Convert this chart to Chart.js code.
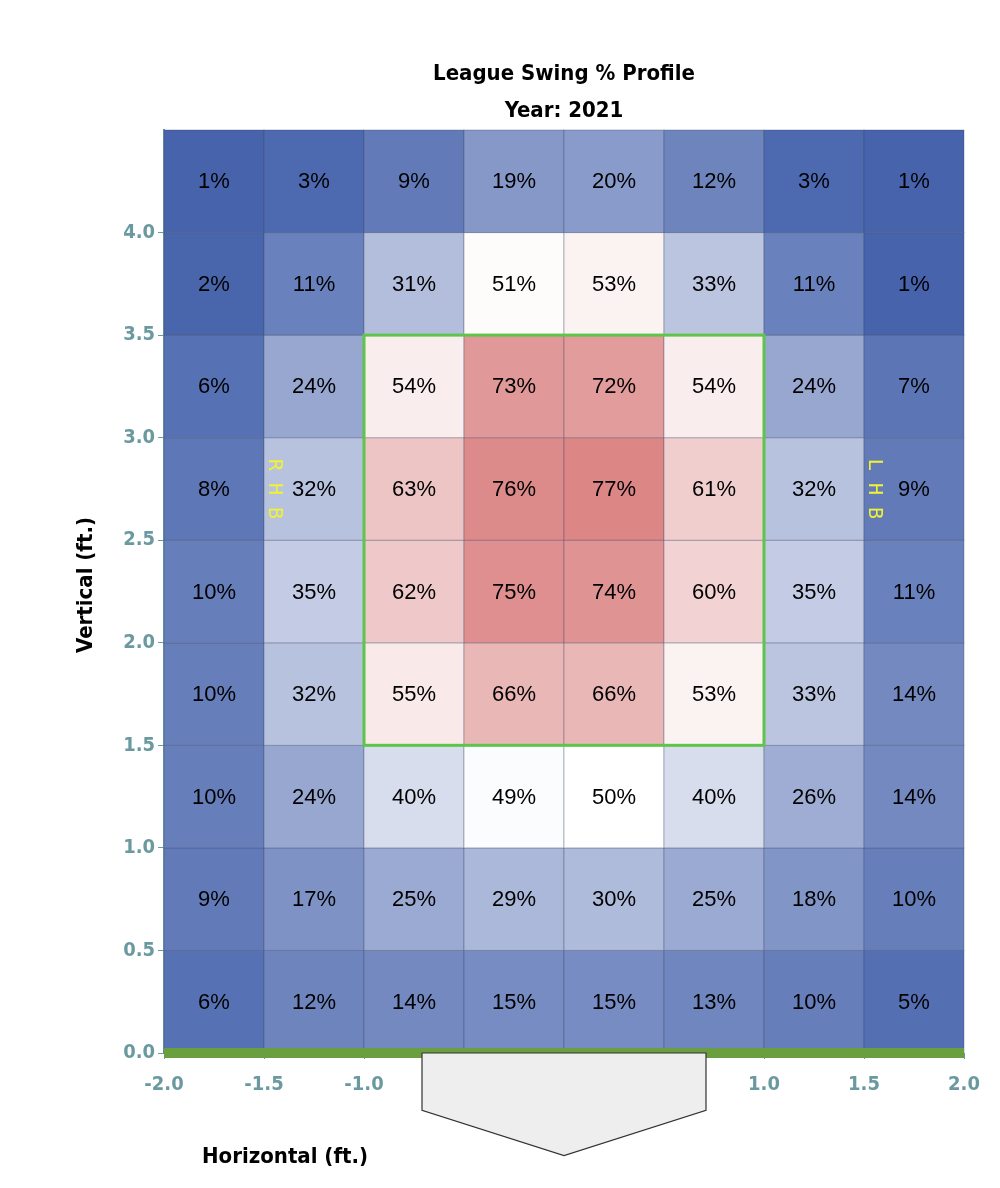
<!DOCTYPE html>
<html><head><meta charset="utf-8">
<script src="https://cdn.jsdelivr.net/npm/chart.js@4/dist/chart.umd.min.js"></script>
<style>html,body{margin:0;padding:0;background:#fff}#c{display:block}</style>
</head><body>
<canvas id="c" width="1000" height="1188"></canvas>
<script>
const xEdges=[-2,-1.5,-1,-0.5,0,0.5,1,1.5,2];
const yEdges=[0,0.5,1,1.5,2,2.5,3,3.5,4,4.5];
// rows bottom (0-0.5) to top (4.0-4.5)
const swingPct=[
 [6,12,14,15,15,13,10,5],
 [9,17,25,29,30,25,18,10],
 [10,24,40,49,50,40,26,14],
 [10,32,55,66,66,53,33,14],
 [10,35,62,75,74,60,35,11],
 [8,32,63,76,77,61,32,9],
 [6,24,54,73,72,54,24,7],
 [2,11,31,51,53,33,11,1],
 [1,3,9,19,20,12,3,1]
];
const zone={x0:-1,x1:1,y0:1.5,y1:3.5};
const plateX=[-0.71,0.71,0.71,0,-0.71];
const plateY=[0,0,-0.28,-0.5,-0.28];
const xTicks=[-2,-1.5,-1,-0.5,0,0.5,1,1.5,2];
const yTicks=[0,0.5,1,1.5,2,2.5,3,3.5,4];

function color(v){
  const stops=[[0,[66,96,170]],[25,[155,170,210]],[50,[255,255,255]],[100,[190,30,30]]];
  for(let i=0;i<stops.length-1;i++){
    const [a,ca]=stops[i],[b,cb]=stops[i+1];
    if(v<=b){const t=(v-a)/(b-a);return 'rgb('+ca.map((c,k)=>Math.round(c+(cb[k]-c)*t)).join(',')+')';}
  }
  return 'rgb(190,30,30)';
}
const tickFont={family:'"DejaVu Sans Condensed","DejaVu Sans"',size:20,weight:'bold'};
const heat={id:'heat',
 beforeDatasetsDraw(ch){
  const {ctx,scales:{x,y}}=ch;
  ctx.save();
  swingPct.forEach((row,r)=>row.forEach((v,c)=>{
    const l=x.getPixelForValue(xEdges[c]),rr=x.getPixelForValue(xEdges[c+1]);
    const t=y.getPixelForValue(yEdges[r+1]),b=y.getPixelForValue(yEdges[r]);
    ctx.fillStyle=color(v);ctx.fillRect(l,t,rr-l,b-t);
    ctx.strokeStyle='rgba(60,70,100,0.35)';ctx.lineWidth=1;ctx.strokeRect(l,t,rr-l,b-t);
    ctx.fillStyle='#000';ctx.font='22px "Liberation Sans",Arial';ctx.textAlign='center';ctx.textBaseline='middle';
    ctx.fillText(v+'%',(l+rr)/2,(t+b)/2+1);
  }));
  ctx.strokeStyle='#5fc44a';ctx.lineWidth=3;
  const zl=x.getPixelForValue(zone.x0),zr=x.getPixelForValue(zone.x1),zt=y.getPixelForValue(zone.y1),zb=y.getPixelForValue(zone.y0);
  ctx.strokeRect(zl,zt,zr-zl,zb-zt);
  ctx.fillStyle='#6a9f3f';
  const g=y.getPixelForValue(0);
  ctx.fillRect(x.getPixelForValue(-2),g-5,x.getPixelForValue(2)-x.getPixelForValue(-2),10);
  ctx.beginPath();
  plateX.forEach((px,i)=>{const X=x.getPixelForValue(px),Y=y.getPixelForValue(plateY[i]);i?ctx.lineTo(X,Y):ctx.moveTo(X,Y);});
  ctx.closePath();ctx.fillStyle='#eeeeee';ctx.fill();ctx.strokeStyle='#333';ctx.lineWidth=1.2;ctx.stroke();
  ctx.fillStyle='#f2f230';ctx.font='20px "DejaVu Sans Mono"';
  [['RHB',-1.5],['LHB',1.5]].forEach(([s,px])=>{
    ctx.save();ctx.translate(x.getPixelForValue(px)+10,y.getPixelForValue(2.75));ctx.rotate(Math.PI/2);
    ctx.textAlign='center';ctx.textBaseline='middle';ctx.fillText(s.split('').join(' '),0,0);ctx.restore();
  });
  ctx.fillStyle='#000';ctx.textAlign='center';ctx.textBaseline='middle';
  ctx.font='bold 22px "DejaVu Sans Condensed"';
  ctx.fillText('League Swing % Profile',564,74);
  ctx.fillText('Year: 2021',564,111);
  ctx.fillText('Horizontal (ft.)',285,1157);
  ctx.save();ctx.translate(86,585);ctx.rotate(-Math.PI/2);ctx.fillText('Vertical (ft.)',0,0);ctx.restore();
  ctx.restore();
 }};
new Chart(document.getElementById('c'),{
 type:'scatter',
 data:{datasets:[{data:[],pointRadius:0}]},
 options:{responsive:false,animation:false,
  layout:{padding:{top:130,right:36,left:0,bottom:0}},
  plugins:{legend:{display:false},tooltip:{enabled:false}},
  scales:{
   x:{type:'linear',min:-2,max:2,afterFit(s){s.height=135;},
      afterBuildTicks(s){s.ticks=xTicks.map(v=>({value:v}));},
      grid:{display:true,drawOnChartArea:false,tickLength:6,color:'#6a9aa0'},border:{display:false},
      ticks:{color:'#6a9aa0',font:tickFont,padding:14,callback:v=>v.toFixed(1)}},
   y:{type:'linear',min:0,max:4.5,afterFit(s){s.width=164;},
      afterBuildTicks(s){s.ticks=yTicks.map(v=>({value:v}));},
      grid:{display:true,drawOnChartArea:false,tickLength:6,color:'#6a9aa0'},
      border:{display:true,color:'#6a9aa0',width:2},
      ticks:{color:'#6a9aa0',font:tickFont,padding:3,callback:v=>v.toFixed(1)}}
  }},
 plugins:[heat]});
</script>
</body></html>
